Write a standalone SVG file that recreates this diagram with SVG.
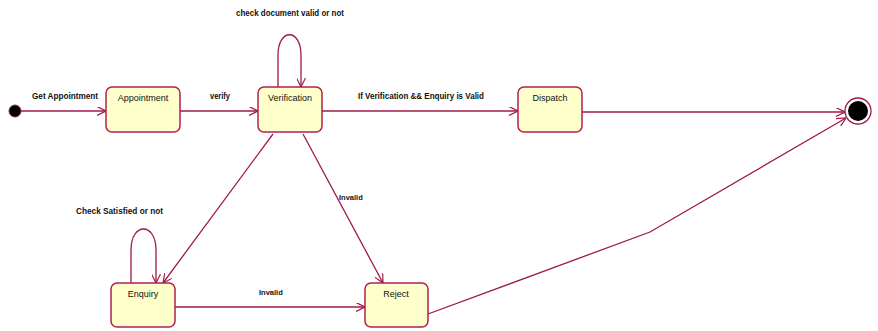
<svg xmlns="http://www.w3.org/2000/svg" width="878" height="331" viewBox="0 0 878 331">
<style>
.st{fill:#ffffcc;stroke:#b02050;stroke-width:1.5}
.c{fill:none;stroke:#a01848;stroke-width:1.3}
.nl{font-family:"Liberation Sans",Arial,sans-serif;font-size:9px;fill:#111;text-anchor:middle}
.el{font-family:"Liberation Sans",Arial,sans-serif;font-size:9px;font-weight:bold;fill:#111}
.sm{font-family:"Liberation Sans",Arial,sans-serif;font-size:7.5px;font-weight:bold;fill:#111}
</style>
<defs>
<marker id="a" viewBox="0 0 10 10" refX="10" refY="5" markerWidth="9" markerHeight="9" markerUnits="userSpaceOnUse" orient="auto">
<path d="M0,0 L10,5 L0,10" fill="none" stroke="#a01848" stroke-width="1.3"/>
</marker>
</defs>
<rect width="878" height="331" fill="#fff"/>
<g id="connectors">
<line class="c" x1="21" y1="111" x2="106" y2="111" marker-end="url(#a)"/>
<line class="c" x1="180" y1="111" x2="258" y2="111" marker-end="url(#a)"/>
<line class="c" x1="322" y1="111" x2="518" y2="111" marker-end="url(#a)"/>
<line class="c" x1="582" y1="112" x2="845" y2="112" marker-end="url(#a)"/>
<path class="c" d="M278,87 L278,55 C278,28 301,28 301,55 L301,87" marker-end="url(#a)"/>
<line class="c" x1="273" y1="134" x2="163" y2="283" marker-end="url(#a)"/>
<line class="c" x1="303" y1="134" x2="383" y2="283" marker-end="url(#a)"/>
<path class="c" d="M131,283 L131,250 C131,222 156,222 156,250 L156,283" marker-end="url(#a)"/>
<line class="c" x1="175" y1="307" x2="365" y2="307" marker-end="url(#a)"/>
<polyline class="c" points="428,314 650,232 846,118" marker-end="url(#a)"/>
</g>
<g id="labels">
<text class="el" x="32" y="99" textLength="66" lengthAdjust="spacingAndGlyphs">Get Appointment</text>
<text class="el" x="210" y="99" textLength="20" lengthAdjust="spacingAndGlyphs">verify</text>
<text class="el" x="236" y="16" textLength="108" lengthAdjust="spacingAndGlyphs">check document valid or not</text>
<text class="el" x="358" y="99" textLength="126" lengthAdjust="spacingAndGlyphs">If Verification &amp;&amp; Enquiry is Valid</text>
<text class="sm" x="339" y="200">Invalid</text>
<text class="el" x="76" y="214" textLength="87" lengthAdjust="spacingAndGlyphs">Check Satisfied or not</text>
<text class="sm" x="259" y="295">Invalid</text>
</g>
<g id="start"><circle cx="15" cy="111" r="6" fill="#000" stroke="#a01848" stroke-width="1"/></g>
<g id="appointment"><rect class="st" x="106" y="87" width="74" height="45" rx="6"/><text class="nl" x="143" y="101">Appointment</text></g>
<g id="verification"><rect class="st" x="258" y="87" width="64" height="45" rx="6"/><text class="nl" x="290" y="101">Verification</text></g>
<g id="dispatch"><rect class="st" x="518" y="87" width="64" height="45" rx="6"/><text class="nl" x="550" y="101">Dispatch</text></g>
<g id="enquiry"><rect class="st" x="111" y="283" width="64" height="44" rx="6"/><text class="nl" x="143" y="297">Enquiry</text></g>
<g id="reject"><rect class="st" x="365" y="283" width="63" height="44" rx="6"/><text class="nl" x="396" y="297">Reject</text></g>
<g id="end"><circle cx="858" cy="111" r="13" fill="#fff" stroke="#a01848" stroke-width="1.3"/><circle cx="858" cy="111" r="10" fill="#000"/></g>
</svg>
